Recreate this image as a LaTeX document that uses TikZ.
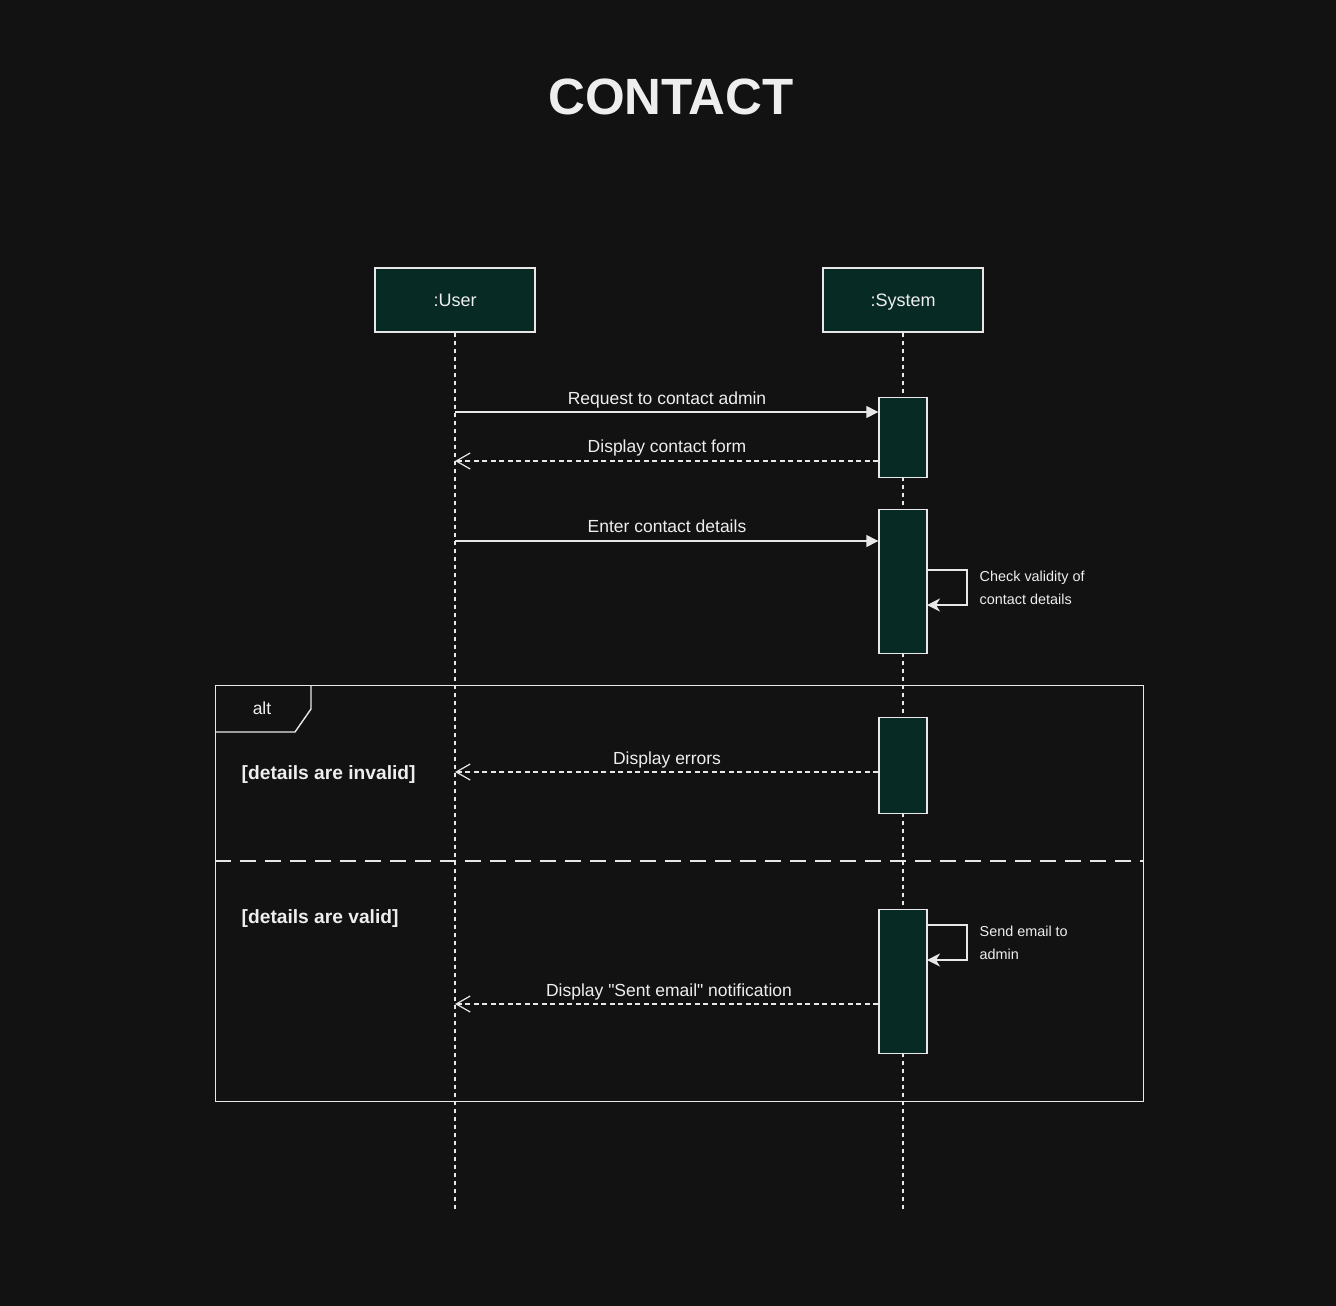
\documentclass[tikz,border=0pt]{standalone}
\usepackage{fontspec}
\setmainfont{Liberation Sans}[Ligatures=TeXOff]
\usetikzlibrary{arrows.meta}
\definecolor{bg}{HTML}{121212}
\definecolor{ink}{HTML}{E8E8E8}
\definecolor{txt}{HTML}{EEEEEE}
\definecolor{boxfill}{HTML}{082A25}
\begin{document}
\begin{tikzpicture}[x=1pt,y=-1pt,
  line width=1.4pt,
  every node/.style={text=txt, inner sep=0pt},
  actor/.style={draw=ink, fill=boxfill, minimum width=160pt, minimum height=64pt,
    font=\fontsize{18}{22}\selectfont, text height=13pt, text depth=0pt},
  actbar/.style={draw=ink, fill=boxfill, minimum width=48pt},
  lifeline/.style={draw=ink, line width=1.2pt, dash pattern=on 4pt off 4pt},
  sync/.style={draw=ink, -{Triangle[length=12pt,width=12pt]}},
  reply/.style={draw=ink, dash pattern=on 5pt off 3.5pt, -{Straight Barb[length=14pt,width=16pt,line width=1.2pt]}},
  selfmsg/.style={draw=ink, -{Stealth[length=13pt,width=13pt,inset=4pt]}},
  msglabel/.style={font=\fontsize{17.5}{21}\selectfont, text height=12.6pt, text depth=3.8pt},
  notelabel/.style={font=\fontsize{14.4}{23}\selectfont, align=left, anchor=west},
  guard/.style={font=\bfseries\fontsize{19.2}{23}\selectfont, anchor=west, text height=13.8pt, text depth=4.2pt}]

% canvas
\fill[bg] (0,0) rectangle (1336,1306);
\useasboundingbox (0,0) rectangle (1336,1306);

% title
\node (title) at (671,97) {\bfseries\fontsize{51}{60}\selectfont CONTACT};

% participants
\node[actor] (user) at (455,300) {:User};
\node[actor] (sys) at (903,300) {:System};
\coordinate (userEnd) at (455,1210);
\coordinate (sysEnd) at (903,1210);
\draw[lifeline] (user.south) -- (userEnd);
\draw[lifeline] (sys.south) -- (sysEnd);

% combined fragment (alt)
\node[draw=ink, minimum width=928pt, minimum height=416pt, anchor=north west] (alt) at (215,685) {};
\coordinate (tabA) at (311,685);
\coordinate (tabB) at (311,709);
\coordinate (tabC) at (295,732);
\coordinate (tabD) at (215,732);
\draw[ink] (tabA) -- (tabB) -- (tabC) -- (tabD);
\node[msglabel] (altlabel) at (262,710) {alt};
\coordinate (sepL) at (215,861);
\coordinate (sepR) at (1143,861);
\draw[ink, dash pattern=on 16pt off 9pt] (sepL) -- (sepR);
\node[guard] (g1) at (241,775) {[details are invalid]};
\node[guard] (g2) at (241,919) {[details are valid]};

% activation bars
\node[actbar, minimum height=80pt, anchor=north] (a1) at (903,397) {};
\node[actbar, minimum height=144pt, anchor=north] (a2) at (903,509) {};
\node[actbar, minimum height=96pt, anchor=north] (a3) at (903,717) {};
\node[actbar, minimum height=144pt, anchor=north] (a4) at (903,909) {};

% messages
\coordinate (m1) at (455,412);
\draw[sync] (m1) -- (m1 -| a1.west);
\node[msglabel] (l1) at (667,400.5) {Request to contact admin};

\coordinate (m2) at (455,461);
\draw[reply] (m2 -| a1.west) -- (m2);
\node[msglabel] (l2) at (667,448.5) {Display contact form};

\coordinate (m3) at (455,541);
\draw[sync] (m3) -- (m3 -| a2.west);
\node[msglabel] (l3) at (667,528.5) {Enter contact details};

\coordinate (s1a) at (927,570);
\coordinate (s1b) at (967,570);
\coordinate (s1c) at (967,605);
\coordinate (s1d) at (927,605);
\draw[selfmsg] (s1a) -- (s1b) -- (s1c) -- (s1d);
\node[notelabel] (n1) at (979,588) {Check validity of\\contact details};

\coordinate (m4) at (455,772);
\draw[reply] (m4 -| a3.west) -- (m4);
\node[msglabel] (l4) at (667,760.5) {Display errors};

\coordinate (s2a) at (927,925);
\coordinate (s2b) at (967,925);
\coordinate (s2c) at (967,960);
\coordinate (s2d) at (927,960);
\draw[selfmsg] (s2a) -- (s2b) -- (s2c) -- (s2d);
\node[notelabel] (n2) at (979,943) {Send email to\\admin};

\coordinate (m5) at (455,1004);
\draw[reply] (m5 -| a4.west) -- (m5);
\node[msglabel] (l5) at (669,992.5) {Display "Sent email" notification};
\end{tikzpicture}
\end{document}
